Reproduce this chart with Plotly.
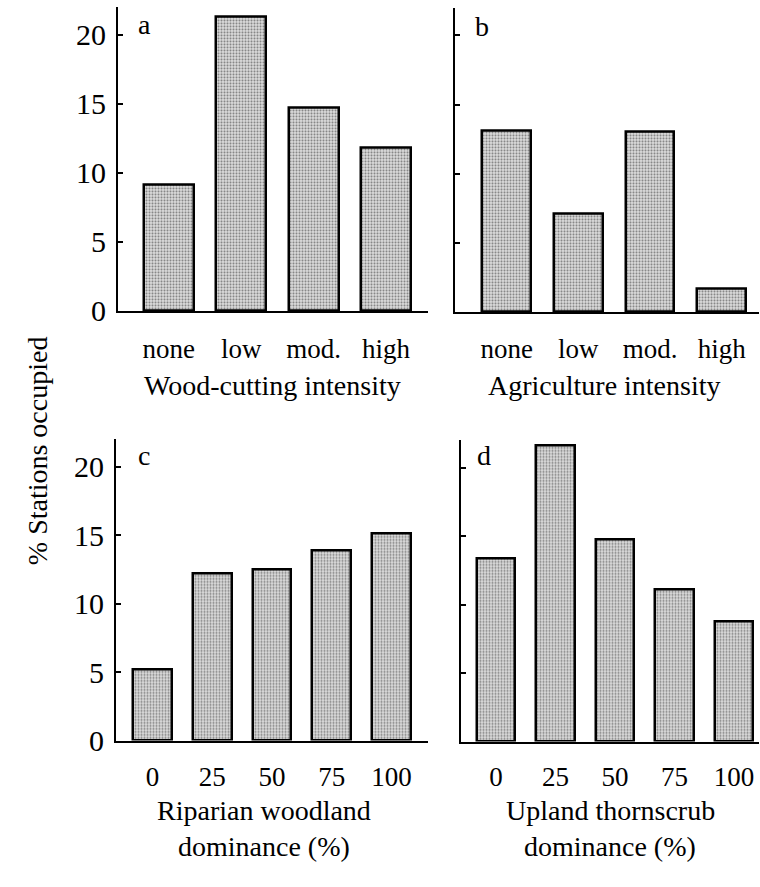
import plotly.graph_objects as go

# ---- data ----
cats_a = ["none", "low", "mod.", "high"]
vals_a = [9.1, 21.3, 14.7, 11.8]
cats_b = ["none", "low", "mod.", "high"]
vals_b = [13.1, 7.1, 13.0, 1.7]
cats_c = ["0", "25", "50", "75", "100"]
vals_c = [5.2, 12.2, 12.5, 13.9, 15.1]
cats_d = ["0", "25", "50", "75", "100"]
vals_d = [13.4, 21.6, 14.8, 11.1, 8.8]
y_ticks = [0, 5, 10, 15, 20]

W, H = 760, 887
FONT = "Liberation Serif"

fig = go.Figure()

panels = [
    # cats, vals, axis id, bar width, xrange, xdomain, ydomain, show y labels, label standoff
    (cats_a, vals_a, "", 0.69, [-0.70, 3.58], [118 / W, 428 / W], [1 - 317 / H, 1 - 7 / H], True, 13),
    (cats_b, vals_b, "2", 0.68, [-0.72, 3.52], [455 / W, 759 / W], [1 - 318 / H, 1 - 8 / H], False, 12),
    (cats_c, vals_c, "3", 0.65, [-0.61, 4.61], [116 / W, 428 / W], [1 - 755 / H, 1 - 448 / H], True, 11),
    (cats_d, vals_d, "4", 0.65, [-0.59, 4.42], [461 / W, 759 / W], [1 - 756 / H, 1 - 449 / H], False, 10),
]

layout = {}
for cats, vals, ax, bw, xr, xd, yd, showy, so in panels:
    fig.add_trace(go.Bar(
        x=list(range(len(cats))), y=vals, width=bw,
        xaxis="x" + ax, yaxis="y" + ax,
        marker=dict(
            color="#d0d0d0",
            line=dict(color="black", width=2.5),
            pattern=dict(shape=".", fgcolor="#222222", bgcolor="#dedede", size=3, solidity=0.4),
        ),
        showlegend=False,
    ))
    layout["xaxis" + ax] = dict(
        domain=xd, range=xr, anchor="y" + ax,
        tickmode="array", tickvals=list(range(len(cats))), ticktext=cats,
        showline=True, linecolor="black", linewidth=2,
        ticks="", showgrid=False, zeroline=False,
        tickfont=dict(family=FONT, size=27, color="black"),
        ticklabelstandoff=so,
    )
    layout["yaxis" + ax] = dict(
        domain=yd, range=[0, 22], anchor="x" + ax,
        tickmode="array", tickvals=y_ticks,
        showticklabels=showy,
        showline=True, linecolor="black", linewidth=2,
        ticks="inside", ticklen=5, tickwidth=1.5, tickcolor="black",
        showgrid=False, zeroline=False,
        tickfont=dict(family=FONT, size=30, color="black"),
        ticklabelstandoff=4,
    )

fig.update_layout(**layout)

ann = [
    dict(text="a", x=144 / W, y=1 - 25 / H),
    dict(text="b", x=482 / W, y=1 - 27 / H),
    dict(text="c", x=144 / W, y=1 - 464 / H),
    dict(text="d", x=484 / W, y=1 - 464 / H),
    dict(text="Wood-cutting intensity", x=272 / W, y=1 - 393 / H),
    dict(text="Agriculture intensity", x=604 / W, y=1 - 393 / H),
    dict(text="Riparian woodland", x=264 / W, y=1 - 826 / H),
    dict(text="dominance (%)", x=264 / W, y=1 - 863 / H),
    dict(text="Upland thornscrub", x=610 / W, y=1 - 826 / H),
    dict(text="dominance (%)", x=610 / W, y=1 - 863 / H),
]
for a in ann:
    fig.add_annotation(
        text=a["text"], x=a["x"], y=a["y"], xref="paper", yref="paper",
        showarrow=False, xanchor="center", yanchor="middle",
        font=dict(family=FONT, size=28, color="black"),
    )
fig.add_annotation(
    text="% Stations occupied", x=37 / W, y=1 - 460 / H, xref="paper", yref="paper",
    showarrow=False, textangle=-90, xanchor="center", yanchor="middle",
    font=dict(family=FONT, size=28, color="black"),
)

fig.update_layout(
    width=W, height=H,
    margin=dict(l=0, r=0, t=0, b=0),
    paper_bgcolor="white", plot_bgcolor="white",
    bargap=0,
)

fig.write_html("out.html")
